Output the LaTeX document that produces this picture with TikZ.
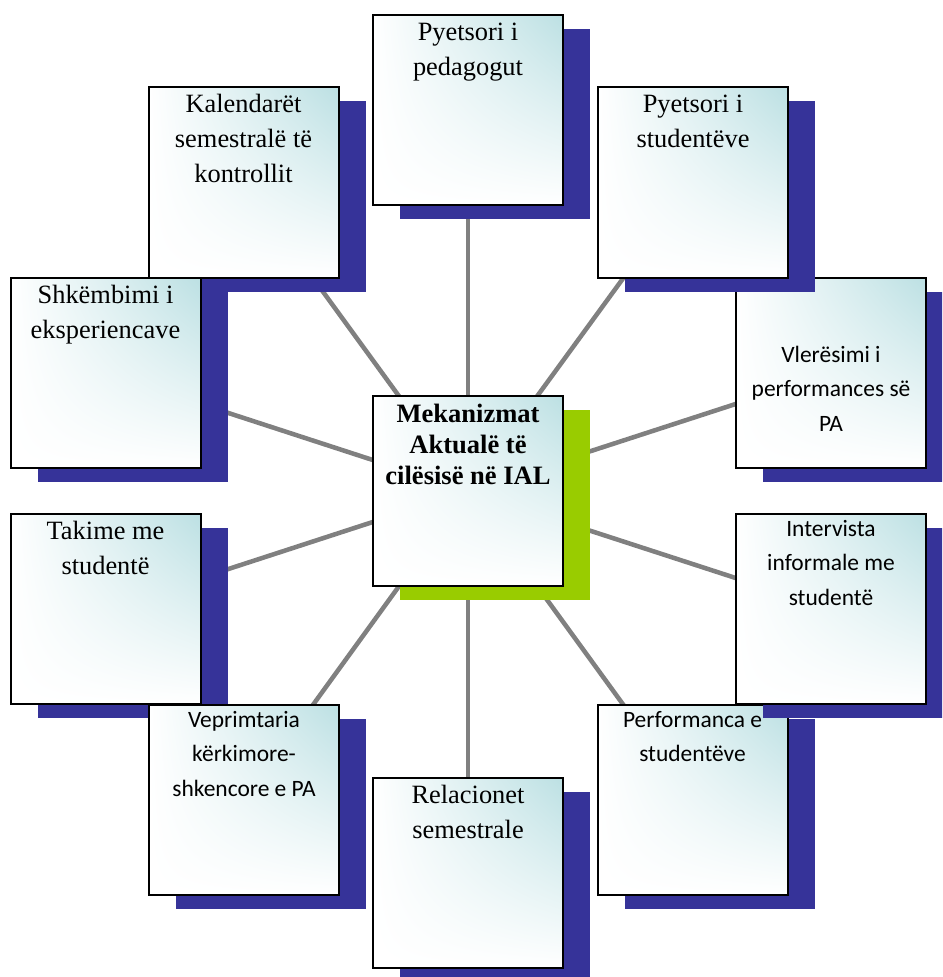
\documentclass[tikz,border=0pt]{standalone}
\usepackage{fontspec}
\setmainfont{Liberation Serif}
\newfontfamily\carlfont{Carlito}
\usetikzlibrary{shadows,shadings}
\definecolor{tealc}{RGB}{188,224,227}
\definecolor{shadblue}{RGB}{54,51,153}
\definecolor{limec}{RGB}{153,204,0}
\definecolor{linegray}{RGB}{128,128,128}
\pgfdeclarelayer{background}
\pgfsetlayers{background,main}
\newcommand\mystrut{\rule{0pt}{15pt}}
\begin{document}
\begin{tikzpicture}[x=0.75pt,y=-0.75pt,
  box/.style={rectangle, draw=black, line width=1.5pt,
    minimum width=142.5pt, minimum height=142.5pt, inner sep=0pt,
    shading=bilinear interpolation,
    lower left=white, lower right=white, upper left=white, upper right=tealc,
    general shadow={fill=#1, shadow xshift=20.25pt, shadow yshift=-10.5pt}},
  box/.default=shadblue,
  stxt/.style={font=\fontsize{19.8pt}{26.25pt}\selectfont, align=center, inner sep=0pt, anchor=north},
  ctxt/.style={font=\carlfont\fontsize{17.6pt}{25.9pt}\selectfont, align=center, inner sep=0pt, anchor=north},
  btxt/.style={font=\bfseries\fontsize{19.9pt}{23.25pt}\selectfont, align=center, inner sep=0pt, anchor=north},
  conn/.style={draw=linegray, line width=3.4pt}
]
\useasboundingbox (0,0) rectangle (942,977);
\clip (0,0) rectangle (942,977);

% boxes, drawn in overlap order
\node[box] (kal) at (243.5,182.5) {};
\node[stxt] (tkal) at ([yshift=-4.5pt]kal.north) {\mystrut Kalendarët\\semestralë të\\kontrollit};

\node[box] (shk) at (105.5,373) {};
\node[stxt] (tshk) at ([yshift=-4.5pt]shk.north) {\mystrut Shkëmbimi i\\eksperiencave};

\node[box] (tak) at (105.5,609) {};
\node[stxt] (ttak) at ([yshift=-4.5pt]tak.north) {\mystrut Takime me\\studentë};

\node[box] (vep) at (244,800) {};
\node[ctxt] (tvep) at ([yshift=-2.25pt]vep.north) {\mystrut Veprimtaria\\kërkimore-\\shkencore e PA};

\node[box] (rel) at (468,873) {};
\node[stxt] (trel) at ([yshift=-4.5pt]rel.north) {\mystrut Relacionet\\semestrale};

\node[box] (per) at (692.5,800) {};
\node[ctxt] (tper) at ([yshift=-2.25pt]per.north) {\mystrut Performanca e\\studentëve};

\node[box] (int) at (831,609) {};
\node[ctxt] (tint) at ([yshift=-2.25pt]int.north) {\mystrut Intervista\\informale me\\studentë};

\node[box] (vle) at (831,373) {};
\node[ctxt] (tvle) at ([yshift=-48.75pt]vle.north) {\mystrut Vlerësimi i\\performances së\\PA};

\node[box] (pst) at (693,182.5) {};
\node[stxt] (tpst) at ([yshift=-4.5pt]pst.north) {\mystrut Pyetsori i\\studentëve};

\node[box] (top) at (468,110) {};
\node[stxt] (ttop) at ([yshift=-4.5pt]top.north) {\mystrut Pyetsori i\\pedagogut};

\node[box=limec] (ctr) at (468,491) {};
\node[btxt] (tctr) at ([yshift=-5.25pt]ctr.north) {\mystrut Mekanizmat\\Aktualë të\\cilësisë në IAL};

\begin{pgfonlayer}{background}
  \foreach \n in {top,pst,vle,int,per,rel,vep,tak,shk,kal}
    \draw[conn] (ctr.center) -- (\n.center);
\end{pgfonlayer}
\end{tikzpicture}
\end{document}
